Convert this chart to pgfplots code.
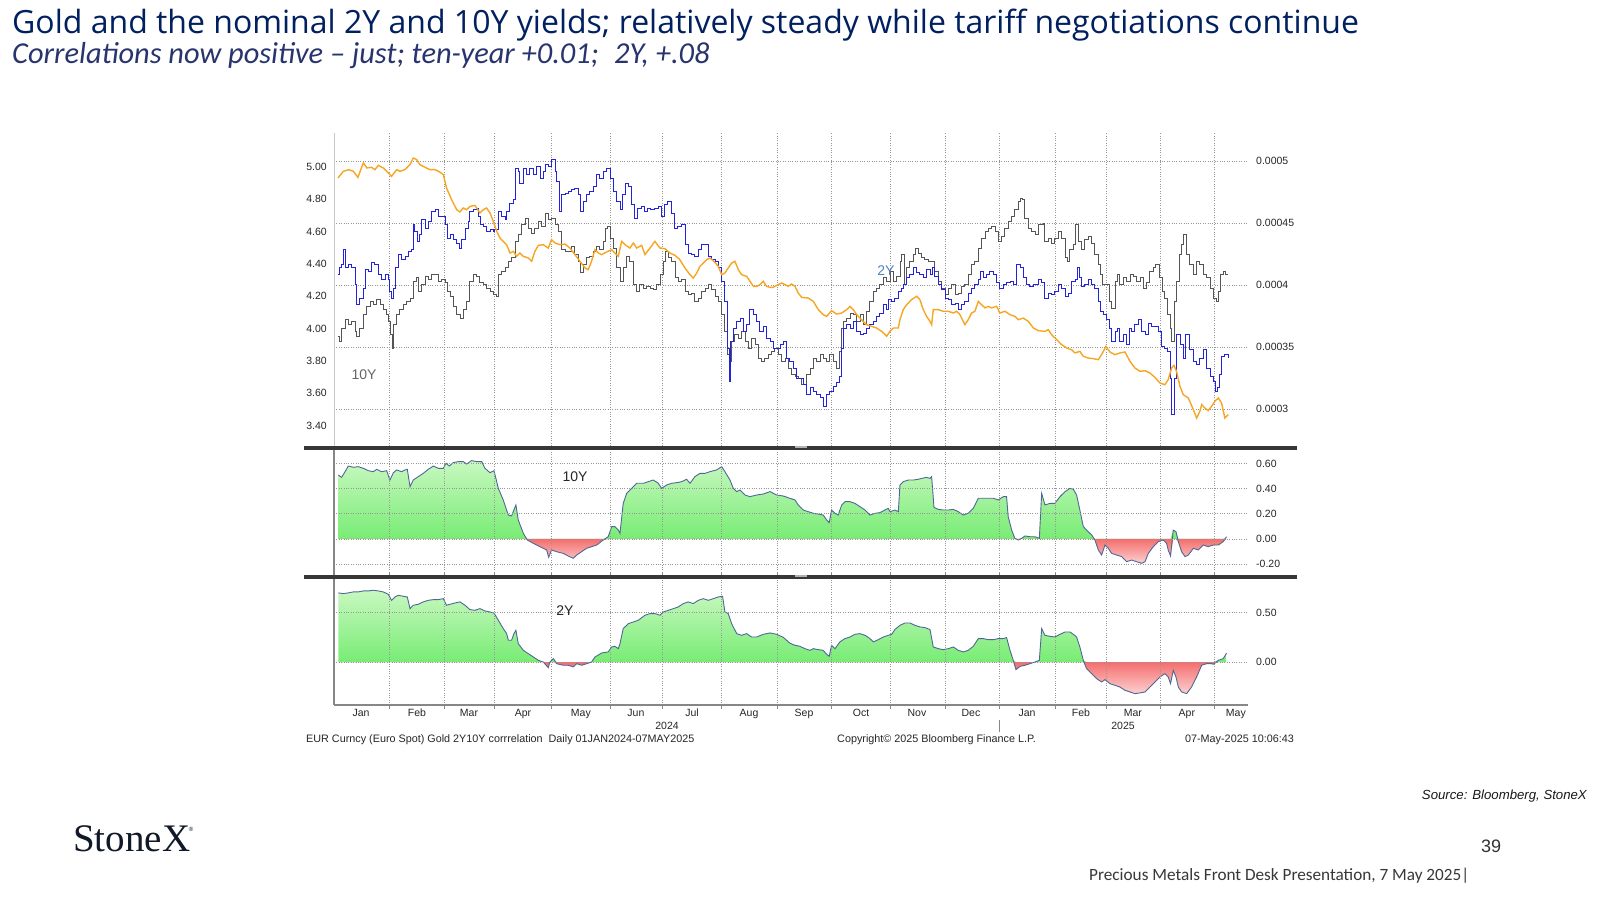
\documentclass[border=0pt]{standalone}
\usepackage{fontspec}
\usepackage{pgfplots}
\pgfplotsset{compat=1.18}
\usepackage{pgfplotstable}
\setmainfont{Liberation Sans}
\newfontfamily\titlefont{Open Sans}
\newfontfamily\subfont{Carlito}
\newfontfamily\brandfont{Liberation Serif}
\newfontfamily\chartfont{Liberation Sans}
\newcommand{\tickf}{\chartfont\fontsize{10.5}{12}\selectfont}
\newcommand{\footf}{\chartfont\fontsize{10.8}{12}\selectfont}
\newcommand{\annf}{\chartfont\fontsize{14}{16}\selectfont}

\definecolor{titleblue}{RGB}{0,32,96}
\definecolor{subblue}{RGB}{40,52,110}
\definecolor{goldc}{RGB}{246,166,35}
\definecolor{twoy}{RGB}{35,35,220}
\definecolor{teny}{RGB}{85,85,85}
\definecolor{gridc}{RGB}{150,150,150}
\definecolor{corrline}{RGB}{78,104,150}
\definecolor{gtop}{RGB}{200,248,192}
\definecolor{gbot}{RGB}{120,236,116}
\definecolor{rtop}{RGB}{245,110,110}
\definecolor{rbot}{RGB}{252,208,208}
\definecolor{sepc}{RGB}{55,55,55}
\definecolor{axc}{RGB}{135,135,135}
\definecolor{lbltwo}{RGB}{80,130,200}
\definecolor{brand}{RGB}{17,24,39}

% ---------- gold (inverse, oz per USD) ----------
\pgfplotstableread{
d v
1 4.863e-4
4 4.917e-4
7 4.930e-4
9.5 4.917e-4
12 4.868e-4
15 4.984e-4
17 4.944e-4
19.6 4.949e-4
21.4 4.930e-4
23.3 4.965e-4
26 4.944e-4
28.8 4.903e-4
30.6 4.876e-4
33.4 4.930e-4
35.2 4.917e-4
38 4.930e-4
40.8 4.970e-4
42.6 5.024e-4
44.5 5.011e-4
46.3 4.970e-4
49.1 4.949e-4
51.8 4.930e-4
54.6 4.930e-4
57.3 4.911e-4
59.2 4.890e-4
61 4.782e-4
63.8 4.688e-4
66.6 4.607e-4
68.4 4.589e-4
70.2 4.621e-4
72.1 4.607e-4
73.9 4.634e-4
76.7 4.642e-4
79.4 4.581e-4
81.3 4.607e-4
83.1 4.621e-4
85 4.581e-4
86.8 4.513e-4
88.7 4.433e-4
90.5 4.379e-4
92.3 4.352e-4
94.2 4.325e-4
96 4.258e-4
97.9 4.271e-4
99.7 4.231e-4
101.5 4.258e-4
103.4 4.231e-4
106.1 4.218e-4
108 4.191e-4
109.8 4.271e-4
111.7 4.320e-4
114.4 4.325e-4
117.2 4.298e-4
119 4.366e-4
120.9 4.339e-4
123.6 4.325e-4
126.4 4.330e-4
129.2 4.298e-4
131.9 4.245e-4
134.7 4.191e-4
137.5 4.137e-4
139.3 4.124e-4
141.1 4.191e-4
143.0 4.285e-4
144.8 4.258e-4
146.7 4.245e-4
149.4 4.266e-4
152.2 4.285e-4
154.0 4.258e-4
155.9 4.231e-4
157.7 4.352e-4
159.6 4.325e-4
162.3 4.298e-4
164.2 4.339e-4
166.0 4.298e-4
168.8 4.320e-4
170.6 4.245e-4
173.4 4.298e-4
176.1 4.352e-4
178.9 4.298e-4
181.7 4.293e-4
184.4 4.258e-4
187.2 4.239e-4
189.9 4.204e-4
192.7 4.137e-4
195.5 4.083e-4
197.3 4.056e-4
199.2 4.097e-4
201.0 4.151e-4
202.8 4.177e-4
204.7 4.204e-4
206.5 4.218e-4
208.4 4.196e-4
211.1 4.151e-4
213.0 4.083e-4
214.8 4.097e-4
216.6 4.137e-4
218.5 4.177e-4
220.3 4.191e-4
222.2 4.124e-4
224.0 4.083e-4
226.8 4.070e-4
228.6 4.030e-4
230.5 3.989e-4
232.3 3.989e-4
234.1 4.003e-4
236.0 4.030e-4
237.8 3.989e-4
239.7 3.981e-4
241.5 3.981e-4
243.4 3.997e-4
246.1 4.016e-4
248.0 4.003e-4
249.8 3.989e-4
251.6 4.008e-4
253.5 3.989e-4
255.3 3.935e-4
257.2 3.900e-4
260.8 3.895e-4
263.6 3.868e-4
266.4 3.801e-4
269.1 3.761e-4
271.0 3.747e-4
273.7 3.793e-4
276.5 3.766e-4
279.3 3.774e-4
282.0 3.801e-4
283.9 3.828e-4
285.7 3.801e-4
287.6 3.761e-4
290.3 3.720e-4
293.1 3.680e-4
295.8 3.667e-4
298.6 3.653e-4
301.4 3.626e-4
304.1 3.586e-4
306.0 3.626e-4
307.8 3.653e-4
310.6 3.653e-4
311.5 3.720e-4
313.3 3.801e-4
315.2 3.841e-4
317.9 3.882e-4
320.7 3.909e-4
322.5 3.882e-4
324.4 3.801e-4
326.2 3.747e-4
328.1 3.707e-4
329.0 3.680e-4
329.9 3.801e-4
332.7 3.801e-4
335.4 3.788e-4
338.2 3.788e-4
341.0 3.774e-4
342.8 3.788e-4
344.6 3.761e-4
347.4 3.680e-4
349.2 3.720e-4
351.1 3.774e-4
352.9 3.788e-4
354.8 3.868e-4
356.6 3.841e-4
358.5 3.815e-4
360.3 3.828e-4
362.1 3.815e-4
364.9 3.828e-4
366.7 3.774e-4
369.5 3.788e-4
372.3 3.761e-4
375.0 3.747e-4
376.9 3.720e-4
379.6 3.733e-4
382.4 3.707e-4
385.2 3.653e-4
387.9 3.632e-4
391.6 3.626e-4
393.4 3.640e-4
395.3 3.599e-4
398.1 3.559e-4
400.8 3.519e-4
403.6 3.492e-4
406.3 3.478e-4
408.2 3.452e-4
410.9 3.465e-4
412.8 3.425e-4
415.5 3.411e-4
418.3 3.406e-4
421.1 3.398e-4
422.9 3.438e-4
425.3 3.505e-4
427.5 3.460e-4
430.3 3.438e-4
433.0 3.452e-4
435.8 3.460e-4
438.6 3.384e-4
441.3 3.331e-4
444.1 3.304e-4
446.9 3.309e-4
449.6 3.290e-4
452.4 3.255e-4
455.1 3.210e-4
457.9 3.196e-4
459.7 3.237e-4
461.6 3.331e-4
462.9 3.352e-4
464.3 3.304e-4
466.2 3.183e-4
468.0 3.116e-4
470.8 3.089e-4
473.6 2.995e-4
475.4 2.927e-4
477.2 2.981e-4
478.2 3.035e-4
480.0 3.008e-4
481.8 2.987e-4
483.7 3.022e-4
485.5 3.062e-4
487.4 3.089e-4
489.2 3.048e-4
491.0 2.927e-4
492.9 2.954e-4
}\goldtab

% ---------- 2Y yield ----------
\pgfplotstableread{
d v
1 4.333
2 4.375
3 4.395
3.9 4.488
4.9 4.375
6.7 4.395
8.5 4.375
10.4 4.271
11.3 4.148
13.1 4.189
15 4.251
15.9 4.364
17.8 4.354
19.6 4.406
21.4 4.395
23.3 4.333
25.1 4.302
27 4.333
28.8 4.302
29.7 4.230
30.6 4.189
31.6 4.251
32.5 4.375
34.3 4.457
36.2 4.426
38 4.447
39.9 4.478
41.7 4.488
42.6 4.643
43.5 4.602
44.8 4.540
45.9 4.581
47.2 4.674
49.1 4.622
50.9 4.664
52.7 4.726
54.6 4.736
56.4 4.695
58.3 4.695
60.1 4.643
61.4 4.560
62.9 4.581
64.7 4.550
66.6 4.529
68 4.498
69.3 4.550
71.2 4.622
73 4.664
73.9 4.726
75.8 4.736
77.6 4.746
78.5 4.695
79.8 4.643
81.3 4.633
83.1 4.602
85 4.612
86.8 4.602
87.7 4.612
89.6 4.726
91.4 4.695
93.3 4.674
94.2 4.726
96 4.777
97.9 4.798
98.8 4.994
100.6 4.973
101.5 4.901
103.4 4.994
105.2 4.953
107 4.994
108.9 4.953
110.8 5.004
112.6 4.932
114.4 4.973
115.9 5.014
117.2 5.004
119 5.045
120.9 4.973
121.8 4.911
123.3 4.726
124.6 4.829
126.4 4.839
128.2 4.849
130.1 4.860
131.9 4.870
133.8 4.829
135.2 4.726
136.5 4.787
138.4 4.829
140.2 4.849
142.1 4.880
143.9 4.953
145.7 4.932
147.6 4.973
149.4 4.994
151.3 4.932
153.1 4.849
155 4.787
156.8 4.736
158.1 4.829
159.6 4.901
161.4 4.880
163.2 4.767
164.7 4.684
166.6 4.746
168.4 4.756
170.2 4.726
172.1 4.746
173.9 4.736
175.8 4.746
178 4.756
179.8 4.695
181.3 4.767
183.1 4.787
185 4.715
186.8 4.622
188.7 4.633
190.9 4.643
192.7 4.519
194.5 4.467
196.4 4.457
198.2 4.447
200.1 4.488
201.9 4.519
203.8 4.519
205.6 4.447
207.4 4.426
209.3 4.416
211.1 4.375
213 4.292
214.8 4.168
216.3 3.879
217.2 3.673
218.1 3.921
219.4 4.003
221.3 4.044
223.1 4.065
224.9 3.982
226.8 4.024
228.6 4.117
230.5 4.086
232.3 4.044
234.1 3.982
236 4.013
237.8 3.941
239.7 3.921
241.5 3.879
243.4 3.879
245.2 3.900
247 3.921
248.9 3.817
250.7 3.797
252.6 3.755
254.4 3.693
256.2 3.690
258.1 3.652
259.9 3.590
261.8 3.632
263.6 3.611
265.5 3.590
267.3 3.570
269.1 3.518
271 3.590
272.8 3.611
274.7 3.642
276.5 3.663
278 3.704
279.3 3.879
280.2 4.003
282 4.024
283.9 4.003
285.7 4.044
287.6 3.982
289.4 3.962
291.2 3.972
293.1 4.003
294.9 4.024
296.8 4.044
298.6 4.075
300.4 4.096
302.3 4.148
303.8 4.117
305 4.179
306.9 4.168
308.7 4.189
310.6 4.230
312.4 4.251
313.3 4.271
315.2 4.313
317 4.333
318.9 4.375
320.7 4.344
322.5 4.333
324.4 4.313
326.2 4.364
328.1 4.333
329.5 4.375
330.8 4.323
332.7 4.271
334.5 4.240
336.4 4.189
338.2 4.179
340 4.148
341.9 4.158
343.7 4.117
345.6 4.148
347.4 4.168
349.2 4.220
351.1 4.251
352.9 4.271
354.8 4.302
355.7 4.354
357.5 4.313
359.4 4.333
361.2 4.354
363.1 4.333
364.9 4.282
366.7 4.251
368.6 4.271
370.4 4.282
372.3 4.292
374.1 4.271
376 4.395
377.8 4.375
379.6 4.313
381.5 4.271
383.3 4.260
385.2 4.271
387.9 4.302
389.8 4.282
391.6 4.189
393.4 4.220
395.3 4.209
397.1 4.230
399.0 4.271
400.8 4.251
402.7 4.199
404.5 4.220
406.3 4.292
408.2 4.302
409.5 4.375
410.9 4.313
411.9 4.261
413.7 4.271
415.5 4.302
417.4 4.271
419.2 4.251
421.1 4.168
422.0 4.106
423.8 4.086
425.7 4.055
427.5 4.003
428.4 3.921
430.3 3.982
431.6 4.003
433.0 3.921
434.9 3.962
436.7 3.900
438.2 4.003
439.5 3.982
441.3 4.024
443.2 4.055
445.0 3.982
446.9 3.962
448.7 4.034
450.5 4.013
452.4 4.013
454.2 3.982
456.1 3.890
457.9 3.879
459.2 3.859
460.7 3.693
461.6 3.466
462.9 3.693
464.3 3.962
466.2 3.900
468.0 3.817
469.5 3.962
471.3 3.869
473.6 3.797
475.4 3.776
477.2 3.817
479.1 3.869
480.9 3.755
482.8 3.704
484.6 3.673
485.9 3.611
486.8 3.632
487.9 3.714
489.2 3.828
490.7 3.838
492.9 3.817
}\twotab

% ---------- 10Y yield ----------
\pgfplotstableread{
d v
1 3.951
2 3.921
3 4.003
4.9 4.055
6.7 4.024
8.5 4.044
10.4 3.982
11.3 3.951
13.1 4.003
15.0 4.086
16.8 4.137
18.7 4.168
20.5 4.148
22.4 4.179
24.2 4.148
26.0 4.117
27.9 4.086
28.8 4.044
30.1 3.962
31.2 3.879
31.9 4.024
33.4 4.086
35.2 4.117
37.1 4.148
38.9 4.168
40.8 4.189
42.6 4.292
44.1 4.313
45.4 4.230
47.2 4.271
49.1 4.323
50.9 4.302
52.7 4.333
54.6 4.333
56.4 4.292
58.3 4.302
60.1 4.282
61.4 4.230
62.9 4.199
64.7 4.137
66.6 4.086
68.4 4.065
70.2 4.117
72.1 4.168
73.9 4.292
75.8 4.333
77.6 4.323
79.4 4.282
81.3 4.271
83.1 4.251
85.0 4.230
86.8 4.209
88.3 4.199
89.6 4.333
91.4 4.354
93.3 4.375
95.1 4.416
96.9 4.437
98.8 4.540
100.6 4.581
102.5 4.643
104.3 4.684
106.1 4.622
108.0 4.591
109.8 4.622
111.7 4.664
113.5 4.633
115.4 4.715
117.2 4.674
119.0 4.684
120.9 4.643
122.7 4.602
124.6 4.488
126.4 4.478
128.2 4.478
130.1 4.509
131.9 4.457
133.8 4.416
135.2 4.344
136.5 4.395
138.4 4.437
140.2 4.447
142.1 4.478
143.9 4.509
145.7 4.488
147.6 4.540
148.9 4.622
150.0 4.633
151.3 4.560
153.1 4.498
155.0 4.375
156.8 4.292
158.6 4.375
160.5 4.447
162.3 4.416
164.2 4.271
166.0 4.230
167.8 4.271
169.7 4.251
171.5 4.261
173.4 4.251
175.2 4.240
177.1 4.271
178.9 4.333
180.7 4.416
181.7 4.478
183.5 4.437
185.3 4.416
187.2 4.313
189.0 4.292
190.9 4.302
192.7 4.230
194.5 4.209
196.4 4.220
198.2 4.168
200.1 4.189
201.9 4.230
203.8 4.251
205.6 4.271
207.4 4.240
209.3 4.199
211.1 4.168
213.0 4.086
214.8 3.982
216.3 3.838
217.2 3.797
218.5 3.921
220.3 3.962
222.2 3.941
224.0 3.982
225.9 3.921
227.7 3.879
229.5 3.941
231.4 3.900
233.2 3.817
235.1 3.797
236.9 3.817
238.7 3.838
240.6 3.859
242.4 3.879
244.3 3.838
246.1 3.797
248.0 3.817
249.8 3.755
251.6 3.714
253.5 3.704
255.3 3.693
257.2 3.652
259.9 3.714
261.8 3.755
263.6 3.817
265.5 3.797
267.3 3.838
269.1 3.817
271.0 3.797
272.8 3.838
274.7 3.797
276.5 3.755
278.3 3.859
279.3 4.003
280.2 4.044
282.0 4.065
283.9 4.096
285.7 4.086
287.6 4.044
289.4 4.086
291.2 4.024
293.1 4.106
294.9 4.168
296.8 4.230
298.6 4.251
300.4 4.271
302.3 4.313
304.1 4.292
306.0 4.354
307.8 4.292
309.7 4.323
311.5 4.416
312.4 4.457
313.7 4.271
315.2 4.375
317.0 4.416
318.9 4.457
319.8 4.498
321.6 4.467
323.5 4.437
325.3 4.426
327.1 4.416
329.0 4.416
330.8 4.354
332.7 4.292
334.5 4.251
336.4 4.209
338.2 4.251
340.0 4.271
341.9 4.209
343.7 4.220
345.6 4.261
347.4 4.271
349.2 4.333
351.1 4.395
352.9 4.416
354.8 4.498
356.6 4.560
358.5 4.602
360.3 4.622
362.1 4.633
364.0 4.602
365.8 4.540
367.7 4.570
369.5 4.622
371.4 4.664
373.2 4.695
375.0 4.736
376.9 4.787
377.8 4.808
379.3 4.798
380.5 4.684
382.4 4.622
384.2 4.602
386.1 4.581
387.9 4.643
390.7 4.653
391.6 4.540
393.4 4.560
395.3 4.529
397.1 4.560
399.0 4.602
400.8 4.560
402.7 4.437
403.9 4.416
405.4 4.488
407.2 4.519
408.7 4.643
410.0 4.540
411.9 4.488
413.7 4.550
415.5 4.570
417.4 4.529
419.2 4.457
421.1 4.395
422.4 4.333
423.5 4.271
425.3 4.271
427.1 4.168
428.4 4.127
430.3 4.292
431.6 4.333
433.0 4.271
434.9 4.313
436.7 4.292
438.6 4.333
440.4 4.323
442.2 4.292
444.1 4.313
445.9 4.251
447.8 4.282
449.6 4.354
451.5 4.375
452.9 4.395
454.8 4.313
456.6 4.230
457.9 4.189
459.2 4.086
460.7 4.003
461.6 3.921
462.9 4.168
464.3 4.292
465.8 4.457
467.1 4.519
468.4 4.581
469.9 4.457
471.7 4.395
473.6 4.333
475.4 4.416
477.2 4.395
479.1 4.333
480.9 4.313
482.8 4.251
484.6 4.189
486.1 4.168
487.4 4.230
488.7 4.333
490.1 4.354
491.6 4.333
492.9 4.333
}\tentab

% ---------- correlation gold vs 10Y ----------
\pgfplotstableread{
d v
1.2 0.508
3.0 0.489
4.9 0.534
6.7 0.579
9.5 0.569
12.2 0.574
15.0 0.561
17.8 0.542
20.5 0.534
22.4 0.553
25.1 0.534
27.9 0.542
29.7 0.468
31.6 0.526
33.4 0.548
36.2 0.534
38.0 0.548
39.3 0.553
40.8 0.415
42.6 0.468
45.4 0.495
48.1 0.521
50.9 0.553
53.7 0.579
56.4 0.561
59.2 0.561
60.7 0.601
62.5 0.579
64.7 0.606
67.5 0.614
70.2 0.614
72.1 0.595
74.8 0.622
77.6 0.614
80.4 0.614
82.2 0.561
85.0 0.526
87.2 0.542
89.6 0.402
92.3 0.310
95.1 0.190
96.9 0.183
98.2 0.230
99.3 0.270
100.6 0.151
103.4 0.045
105.6 -0.008
108.9 -0.034
112.6 -0.061
116.3 -0.087
117.4 -0.145
119.0 -0.087
121.8 -0.101
125.5 -0.114
128.2 -0.135
131.0 -0.153
132.9 -0.127
135.6 -0.101
138.4 -0.074
141.1 -0.061
143.9 -0.048
147.6 -0.008
150.3 0.018
152.2 0.098
154.0 0.098
155.9 0.071
156.8 0.045
158.6 0.283
160.5 0.362
163.2 0.402
166.0 0.442
169.7 0.442
172.4 0.455
175.2 0.468
178.0 0.442
179.8 0.402
182.6 0.429
185.3 0.442
188.1 0.447
190.9 0.455
193.6 0.474
195.5 0.442
198.2 0.495
201.0 0.521
203.8 0.521
206.5 0.534
210.2 0.548
213.0 0.574
214.8 0.534
217.6 0.468
219.4 0.402
221.3 0.376
223.1 0.389
225.9 0.349
228.6 0.336
232.3 0.349
236.0 0.357
239.7 0.376
243.4 0.349
247.0 0.341
250.7 0.323
253.5 0.310
255.3 0.270
258.1 0.230
260.8 0.217
263.6 0.204
266.4 0.198
269.1 0.190
271.0 0.151
272.4 0.130
273.7 0.230
275.6 0.204
277.4 0.190
279.3 0.270
281.1 0.296
283.9 0.296
286.6 0.283
289.4 0.257
292.2 0.230
294.9 0.190
297.7 0.204
300.4 0.209
303.2 0.230
305.0 0.243
306.0 0.217
308.7 0.230
310.6 0.217
311.5 0.429
313.3 0.455
316.1 0.468
318.9 0.468
321.6 0.474
323.5 0.481
326.2 0.489
328.1 0.481
329.0 0.495
330.3 0.251
332.7 0.235
335.4 0.230
338.2 0.230
341.0 0.235
343.7 0.217
346.5 0.190
349.2 0.204
352.0 0.243
354.8 0.323
357.5 0.323
360.3 0.323
363.1 0.323
365.8 0.310
368.6 0.336
370.4 0.336
371.3 0.177
373.2 0.071
375.0 0.005
376.9 -0.008
378.7 0.005
380.6 0.024
383.3 0.018
386.1 0.018
388.5 0.005
389.8 0.362
391.6 0.270
394.4 0.283
397.1 0.283
399.9 0.336
402.7 0.376
405.4 0.402
407.3 0.394
409.1 0.349
410.9 0.230
412.8 0.098
414.6 0.071
417.4 0.032
419.2 -0.008
421.1 -0.087
422.9 -0.127
424.8 -0.048
426.6 -0.074
428.4 -0.114
431.2 -0.127
434.0 -0.140
436.7 -0.180
439.5 -0.167
442.2 -0.180
445.0 -0.193
446.9 -0.180
448.7 -0.114
451.5 -0.061
454.2 -0.021
457.0 -0.008
458.8 -0.034
459.7 -0.087
461.0 -0.135
462.5 0.071
464.0 0.058
465.3 -0.021
467.1 -0.101
469.0 -0.140
470.8 -0.127
473.6 -0.074
476.3 -0.087
479.1 -0.048
481.8 -0.061
484.6 -0.048
487.4 -0.048
490.1 -0.021
492.0 0.018
}\ctentab

% ---------- correlation gold vs 2Y ----------
\pgfplotstableread{
d v
1.2 0.699
3.9 0.692
6.7 0.699
9.5 0.709
12.2 0.709
15.0 0.719
17.8 0.719
20.5 0.726
23.3 0.719
26.0 0.709
28.8 0.685
30.6 0.624
32.5 0.658
34.3 0.675
37.1 0.665
39.3 0.658
40.8 0.540
42.6 0.574
45.4 0.584
48.1 0.608
50.9 0.624
53.7 0.631
56.4 0.631
59.2 0.641
61.0 0.574
62.9 0.584
65.6 0.597
68.4 0.608
71.2 0.574
73.9 0.530
76.7 0.523
79.4 0.540
82.2 0.517
85.0 0.506
87.2 0.496
89.6 0.422
92.3 0.338
94.2 0.287
95.1 0.220
96.9 0.220
98.2 0.287
99.3 0.321
100.6 0.186
103.4 0.118
106.1 0.085
108.9 0.051
111.7 0.017
114.4 0.000
117.2 -0.057
118.1 0.000
120.0 0.034
121.8 -0.017
125.5 -0.033
128.2 -0.033
131.0 -0.050
132.9 -0.017
135.6 -0.033
138.4 -0.017
141.1 0.000
143.0 0.051
146.7 0.091
150.3 0.102
152.2 0.152
154.0 0.159
155.9 0.135
156.8 0.186
158.6 0.338
161.4 0.388
164.2 0.405
166.9 0.422
170.6 0.473
173.4 0.490
176.1 0.490
178.9 0.473
180.7 0.506
183.5 0.523
186.3 0.540
189.0 0.557
191.8 0.591
194.5 0.608
197.3 0.591
200.1 0.624
202.8 0.641
205.6 0.624
208.4 0.641
211.1 0.658
213.5 0.665
214.8 0.506
216.6 0.490
218.5 0.388
221.3 0.287
224.0 0.270
226.8 0.287
229.5 0.253
232.3 0.253
236.0 0.280
239.7 0.294
243.4 0.280
247.0 0.250
250.7 0.190
253.5 0.169
256.2 0.159
259.0 0.135
261.8 0.118
263.6 0.135
266.4 0.125
269.1 0.118
271.0 0.078
272.4 0.058
273.7 0.169
275.6 0.135
278.3 0.203
281.1 0.237
283.9 0.253
286.6 0.280
289.4 0.287
292.2 0.270
294.9 0.237
296.8 0.203
299.5 0.226
302.3 0.253
305.0 0.270
306.9 0.280
308.7 0.328
311.5 0.371
314.3 0.395
317.0 0.395
319.8 0.371
322.5 0.355
325.3 0.348
328.1 0.328
329.9 0.152
332.7 0.135
335.4 0.125
338.2 0.135
341.0 0.152
343.7 0.118
346.5 0.102
349.2 0.118
352.0 0.159
354.8 0.237
357.5 0.237
360.3 0.226
363.1 0.226
365.8 0.237
368.6 0.237
370.4 0.247
372.3 0.118
374.1 0.017
375.6 -0.077
377.8 -0.044
380.6 -0.033
383.3 -0.017
386.1 0.000
388.5 0.017
389.8 0.338
391.6 0.270
394.4 0.260
397.1 0.253
399.9 0.280
402.7 0.304
405.4 0.304
407.3 0.280
409.1 0.253
410.9 0.152
412.8 0.017
414.6 -0.067
417.4 -0.118
420.1 -0.168
422.9 -0.202
424.8 -0.178
427.5 -0.219
430.3 -0.236
433.0 -0.253
435.8 -0.286
438.6 -0.303
441.3 -0.320
444.1 -0.313
446.9 -0.303
449.6 -0.253
452.4 -0.202
455.1 -0.152
457.9 -0.118
459.7 -0.152
461.0 -0.219
462.5 -0.084
464.0 -0.152
465.3 -0.253
467.1 -0.303
469.9 -0.320
472.6 -0.253
475.4 -0.152
478.2 -0.033
480.9 -0.017
483.7 -0.017
484.6 -0.023
487.4 0.017
490.1 0.034
492.0 0.091
}\ctwotab

\pgfplotsset{
  base/.style={
    scale only axis, width=914pt, xmin=-1.2, xmax=503.8,
    anchor=south west,
    axis line style={draw=none},
    major tick length=0pt,
    scaled x ticks=false, scaled y ticks=false,
    xtick={29.4,59.8,87.4,118.7,151.6,180.1,213.0,243.9,273.7,306.3,336.4,366.3,397.2,425.7,455.6,485.5},
    xticklabels={},
    grid style={gridc, dotted, line width=0.9pt},
    ticklabel style={font=\tickf, text=black!85},
    /pgf/number format/assume math mode=true,
  },
}

\begin{document}
\begin{tikzpicture}[x=1pt,y=1pt]
\path[use as bounding box] (0,0) rectangle (1600,900);
\fill[white] (0,0) rectangle (1600,900);

% ===== top panel: grid + right axis =====
\begin{axis}[base, at={(334pt,452pt)}, height=315pt,
  ymin=2.6855e-4, ymax=5.2258e-4,
  ytick={3e-4,3.5e-4,4e-4,4.5e-4,5e-4},
  yticklabels={0.0003,0.00035,0.0004,0.00045,0.0005},
  yticklabel pos=right,
  yticklabel style={anchor=west, inner sep=0pt, xshift=8pt},
  xmajorgrids, ymajorgrids]
\addplot[draw=none, forget plot] table {\goldtab};
\end{axis}

% ===== top panel: yields (left axis) =====
\begin{axis}[base, at={(334pt,452pt)}, height=315pt,
  ymin=3.26, ymax=5.2105,
  ytick={3.4,3.6,3.8,4.0,4.2,4.4,4.6,4.8,5.0},
  yticklabels={3.40,3.60,3.80,4.00,4.20,4.40,4.60,4.80,5.00},
  yticklabel pos=left,
  yticklabel style={anchor=east, inner sep=0pt, xshift=-7pt}]
\addplot[const plot, teny, line width=0.9pt] table {\tentab};
\addplot[const plot, twoy, line width=0.9pt] table {\twotab};
\end{axis}

% ===== top panel: gold (right axis) =====
\begin{axis}[base, at={(334pt,452pt)}, height=315pt,
  ymin=2.6855e-4, ymax=5.2258e-4, hide axis]
\addplot[goldc, line width=1.4pt] table {\goldtab};
\end{axis}

% ===== panel 2: correlation with 10Y =====
\begin{axis}[base, at={(334pt,323pt)}, height=129pt,
  ymin=-0.3016, ymax=0.7222,
  ytick={-0.2,0,0.2,0.4,0.6},
  yticklabels={-0.20,0.00,0.20,0.40,0.60},
  yticklabel pos=right,
  yticklabel style={anchor=west, inner sep=0pt, xshift=8pt},
  xmajorgrids, ymajorgrids, axis on top]
\addplot[draw=none, top color=gtop, bottom color=gbot] table[x=d, y expr={max(\thisrow{v},0)}] {\ctentab} \closedcycle;
\addplot[draw=none, top color=rtop, bottom color=rbot] table[x=d, y expr={min(\thisrow{v},0)}] {\ctentab} \closedcycle;
\addplot[corrline, line width=0.9pt] table {\ctentab};
\end{axis}

% ===== panel 3: correlation with 2Y =====
\begin{axis}[base, at={(334pt,195pt)}, height=128pt,
  ymin=-0.435, ymax=0.860,
  ytick={0,0.5},
  yticklabels={0.00,0.50},
  yticklabel pos=right,
  yticklabel style={anchor=west, inner sep=0pt, xshift=8pt},
  xtick={13.7,44.6,73.4,103.2,135.2,165.6,196.6,228.1,258.5,290.0,320.9,350.7,381.7,411.5,440.2,470.0,497.1},
  xticklabels={Jan,Feb,Mar,Apr,May,Jun,Jul,Aug,Sep,Oct,Nov,Dec,Jan,Feb,Mar,Apr,May},
  xticklabel style={anchor=base, inner sep=0pt, yshift=-11.8pt},
  extra x ticks={29.4,59.8,87.4,118.7,151.6,180.1,213.0,243.9,273.7,306.3,336.4,366.3,397.2,425.7,455.6,485.5},
  extra x tick labels={,,,,,,,,,,,,,,,},
  extra x tick style={grid=major, major tick length=4pt, tick align=outside, tick style={draw=axc, line width=0.8pt}},
  ymajorgrids, axis on top]
\addplot[draw=none, top color=gtop, bottom color=gbot] table[x=d, y expr={max(\thisrow{v},0)}] {\ctwotab} \closedcycle;
\addplot[draw=none, top color=rtop, bottom color=rbot] table[x=d, y expr={min(\thisrow{v},0)}] {\ctwotab} \closedcycle;
\addplot[corrline, line width=0.9pt] table {\ctwotab};
\end{axis}

% ===== frame lines =====
\draw[black!22, line width=0.8pt] (334,452) -- (334,767);
\draw[axc, line width=1.2pt] (334,195) -- (334,452);
\draw[axc, line width=1.2pt] (334,195) -- (1248,195);
\draw[sepc, line width=3.5pt] (304,452) -- (1297,452);
\draw[sepc, line width=3.5pt] (304,323) -- (1297,323);
\draw[gray!60, line width=1.2pt] (795,453) -- (807,453);
\draw[gray!60, line width=1.2pt] (795,324) -- (807,324);
\draw[axc, line width=0.8pt] (999,168) -- (999,180);

% ===== chart annotations =====
\node[font=\annf, text=black!60] at (364,525) {10Y};
\node[font=\annf, text=lbltwo] at (886,629) {2Y};
\node[font=\annf, text=black!85] at (575,423) {10Y};
\node[font=\annf, text=black!85] at (565,289) {2Y};
\node[font=\tickf, text=black!85] at (667,174) {2024};
\node[font=\tickf, text=black!85] at (1123,174) {2025};
\node[font=\footf, text=black!85, anchor=west, inner sep=0pt] at (306,160) {EUR Curncy (Euro Spot) Gold 2Y10Y corrrelation\ \ Daily 01JAN2024-07MAY2025};
\node[font=\footf, text=black!85, anchor=west, inner sep=0pt] at (837,160) {Copyright© 2025 Bloomberg Finance L.P.};
\node[font=\footf, text=black!85, anchor=east, inner sep=0pt] at (1294,160) {07-May-2025 10:06:43};

% ===== slide texts =====
\node[anchor=base west, inner sep=0pt, font=\titlefont\fontsize{32}{38}\selectfont, text=titleblue] at (12,866) {Gold and the nominal 2Y and 10Y yields; relatively steady while tariff negotiations continue};
\node[anchor=base west, inner sep=0pt, font=\subfont\itshape\fontsize{30.4}{34}\selectfont, text=subblue] at (12,836) {Correlations now positive – just; ten-year +0.01;\enspace 2Y, +.08};
\node[anchor=base west, inner sep=0pt, font=\brandfont\fontsize{39}{42}\selectfont, text=brand] at (73,49) {StoneX};
\node[anchor=center, inner sep=0pt, font=\chartfont\fontsize{6}{7}\selectfont, text=brand] at (191,71) {®};
\node[anchor=base east, inner sep=0pt, font=\chartfont\itshape\fontsize{13.2}{15}\selectfont, text=black!90] at (1587,101) {Source: Bloomberg, StoneX};
\node[anchor=base, inner sep=0pt, font=\chartfont\fontsize{18}{20}\selectfont, text=black!80] at (1491,48) {39};
\node[anchor=base west, inner sep=0pt, font=\subfont\fontsize{17.2}{20}\selectfont, text=black!78] at (1089,20) {Precious Metals Front Desk Presentation, 7 May 2025|};
\end{tikzpicture}
\end{document}
